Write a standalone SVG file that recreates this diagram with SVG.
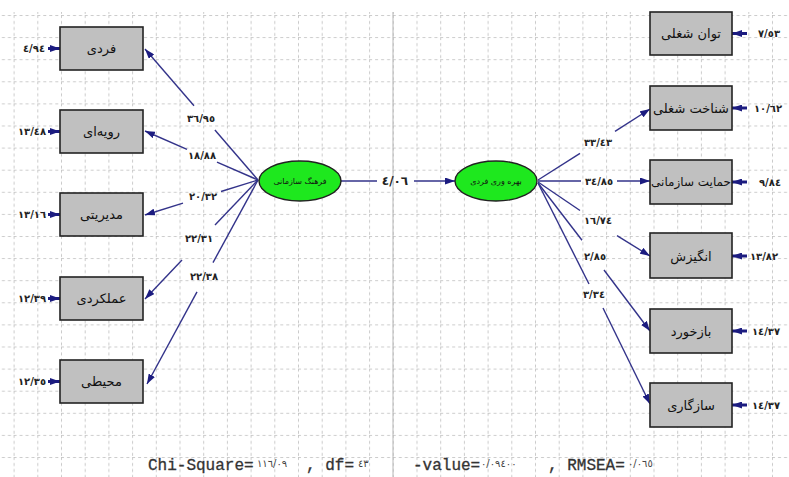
<svg xmlns="http://www.w3.org/2000/svg" width="789" height="477" viewBox="0 0 789 477">
<defs>
<pattern id="grid" x="13.6" y="15" width="23.7" height="22.1" patternUnits="userSpaceOnUse">
<line x1="0" y1="0.5" x2="23.7" y2="0.5" stroke="#c6c6c6" stroke-width="0.9" stroke-dasharray="3 3"/>
<line x1="0.5" y1="0" x2="0.5" y2="22.1" stroke="#c6c6c6" stroke-width="0.9" stroke-dasharray="3 3"/>
</pattern>
<marker id="ah" viewBox="0 0 10 7" refX="10" refY="3.5" markerWidth="10" markerHeight="7" markerUnits="userSpaceOnUse" orient="auto">
<path d="M0,0 L10,3.5 L0,7 z" fill="#1c1c80"/>
</marker>
<style>
.box{fill:#c0c0c0;stroke:#222;stroke-width:1.6}
.ell{fill:#1ee81e;stroke:#222;stroke-width:1.4}
.bt{font-family:"DejaVu Sans",sans-serif;font-size:13px;fill:#111;text-anchor:middle;dominant-baseline:central}
.et{font-family:"DejaVu Sans",sans-serif;font-size:8px;fill:#111;text-anchor:middle;dominant-baseline:central}
.c{stroke:#33338a;stroke-width:1.4;fill:none}
.ea{stroke:#1c1c80;stroke-width:3;fill:none}
.lb{font-family:"DejaVu Sans",sans-serif;font-size:10px;font-weight:bold;fill:#222;text-anchor:middle;dominant-baseline:central}
.mono{font-family:"Liberation Mono",monospace;font-size:16px;fill:#333;stroke:#333;stroke-width:0.3}
.sm{font-family:"DejaVu Sans",sans-serif;font-size:10px;fill:#444}
</style>
</defs>
<rect width="789" height="477" fill="#fff"/>
<rect x="0" y="12" width="789" height="465" fill="url(#grid)"/>
<line x1="393" y1="12" x2="393" y2="477" stroke="#b8b8b8" stroke-width="1"/>

<g id="connectors">
<line class="c" x1="258" y1="180" x2="214.9" y2="130"/>
<line class="c" x1="194" y1="105.8" x2="145" y2="49" marker-end="url(#ah)"/>
<line class="c" x1="258" y1="180" x2="217" y2="162.2"/>
<line class="c" x1="187" y1="149.3" x2="145" y2="131" marker-end="url(#ah)"/>
<line class="c" x1="258" y1="180" x2="221" y2="191.5"/>
<line class="c" x1="183" y1="203.2" x2="145" y2="215" marker-end="url(#ah)"/>
<line class="c" x1="258" y1="180" x2="215" y2="225"/>
<line class="c" x1="182" y1="260" x2="145" y2="299" marker-end="url(#ah)"/>
<line class="c" x1="258" y1="180" x2="213" y2="262.6"/>
<line class="c" x1="197" y1="291.9" x2="147" y2="384" marker-end="url(#ah)"/>
<line class="c" x1="341" y1="181" x2="377" y2="181"/>
<line class="c" x1="414" y1="181" x2="455" y2="181" marker-end="url(#ah)"/>
<line class="c" x1="538" y1="180" x2="580" y2="153.4"/>
<line class="c" x1="615" y1="131.3" x2="650" y2="109" marker-end="url(#ah)"/>
<line class="c" x1="538" y1="181" x2="581" y2="181"/>
<line class="c" x1="617" y1="181" x2="650" y2="181" marker-end="url(#ah)"/>
<line class="c" x1="538" y1="182" x2="580" y2="210.5"/>
<line class="c" x1="617" y1="235.6" x2="650" y2="256" marker-end="url(#ah)"/>
<line class="c" x1="538" y1="183" x2="582" y2="240.3"/>
<line class="c" x1="604" y1="270" x2="650" y2="331" marker-end="url(#ah)"/>
<line class="c" x1="538" y1="183" x2="589" y2="284"/>
<line class="c" x1="603" y1="308" x2="650" y2="404" marker-end="url(#ah)"/>
<line class="ea" x1="48" y1="48.5" x2="60" y2="48.5" marker-end="url(#ah)"/>
<line class="ea" x1="48" y1="131.5" x2="60" y2="131.5" marker-end="url(#ah)"/>
<line class="ea" x1="48" y1="214.5" x2="60" y2="214.5" marker-end="url(#ah)"/>
<line class="ea" x1="48" y1="298.5" x2="60" y2="298.5" marker-end="url(#ah)"/>
<line class="ea" x1="48" y1="381.5" x2="60" y2="381.5" marker-end="url(#ah)"/>
<line class="ea" x1="747" y1="33.5" x2="732" y2="33.5" marker-end="url(#ah)"/>
<line class="ea" x1="747" y1="108" x2="732" y2="108" marker-end="url(#ah)"/>
<line class="ea" x1="747" y1="182" x2="732" y2="182" marker-end="url(#ah)"/>
<line class="ea" x1="747" y1="256" x2="732" y2="256" marker-end="url(#ah)"/>
<line class="ea" x1="747" y1="331" x2="732" y2="331" marker-end="url(#ah)"/>
<line class="ea" x1="747" y1="405" x2="732" y2="405" marker-end="url(#ah)"/>
</g>

<g id="connector-labels">
<text class="lb" x="201" y="118">٣٦/٩٥</text>
<text class="lb" x="202" y="155">١٨/٨٨</text>
<text class="lb" x="203" y="196">٢٠/٣٢</text>
<text class="lb" x="199" y="238">٢٢/٣١</text>
<text class="lb" x="204" y="276">٢٢/٣٨</text>
<text class="lb" x="395" y="181" style="font-size:12px">٤/٠٦</text>
<text class="lb" x="598" y="142">٣٣/٤٣</text>
<text class="lb" x="599" y="181">٣٤/٨٥</text>
<text class="lb" x="598" y="220">١٦/٧٤</text>
<text class="lb" x="595" y="256">٢/٨٥</text>
<text class="lb" x="594" y="294">٣/٣٤</text>
</g>

<g id="error-labels">
<text class="lb" x="34" y="48.5">٤/٩٤</text>
<text class="lb" x="32" y="131.5">١٣/٤٨</text>
<text class="lb" x="32" y="214.5">١٣/١٦</text>
<text class="lb" x="32" y="298.5">١٢/٣٩</text>
<text class="lb" x="32" y="381.5">١٢/٣٥</text>
<text class="lb" x="769" y="33.5">٧/٥٣</text>
<text class="lb" x="768" y="108">١٠/٦٢</text>
<text class="lb" x="770" y="182">٩/٨٤</text>
<text class="lb" x="764" y="256">١٣/٨٢</text>
<text class="lb" x="766" y="331">١٤/٣٧</text>
<text class="lb" x="766" y="405">١٤/٣٧</text>
</g>

<g id="n-fardi"><rect class="box" x="60" y="27" width="83" height="43"/><text class="bt" x="101.5" y="48.5">فردی</text></g>
<g id="n-ravie"><rect class="box" x="60" y="110" width="83" height="43"/><text class="bt" x="101.5" y="131.5">رویه‌ای</text></g>
<g id="n-modiriati"><rect class="box" x="60" y="193" width="83" height="43"/><text class="bt" x="101.5" y="214.5">مدیریتی</text></g>
<g id="n-amalkardi"><rect class="box" x="60" y="277" width="83" height="43"/><text class="bt" x="101.5" y="298.5">عملکردی</text></g>
<g id="n-mohiti"><rect class="box" x="60" y="360" width="83" height="43"/><text class="bt" x="101.5" y="381.5">محیطی</text></g>

<g id="n-farhang"><ellipse class="ell" cx="300" cy="181" rx="41" ry="20"/><text class="et" x="300" y="181">فرهنگ سازمانی</text></g>
<g id="n-bahrevari"><ellipse class="ell" cx="496" cy="181" rx="41" ry="20"/><text class="et" x="496" y="181">بهره وری فردی</text></g>

<g id="n-tavan"><rect class="box" x="650" y="12" width="82" height="43"/><text class="bt" x="691" y="33.5">توان شغلی</text></g>
<g id="n-shenakht"><rect class="box" x="650" y="86" width="82" height="44"/><text class="bt" x="691" y="108">شناخت شغلی</text></g>
<g id="n-hemayat"><rect class="box" x="650" y="160" width="82" height="44"/><text class="bt" x="691" y="182" style="font-size:12px">حمایت سازمانی</text></g>
<g id="n-angizesh"><rect class="box" x="650" y="233" width="82" height="45"/><text class="bt" x="691" y="256">انگیزش</text></g>
<g id="n-bazkhord"><rect class="box" x="650" y="309" width="82" height="44"/><text class="bt" x="691" y="331">بازخورد</text></g>
<g id="n-sazgari"><rect class="box" x="650" y="383" width="82" height="44"/><text class="bt" x="691" y="405">سازگاری</text></g>

<g id="fit-stats">
<text class="mono" x="148" y="470">Chi-Square=</text>
<text class="sm" x="257" y="467">١١٦/٠٩</text>
<text class="mono" x="306" y="470">, df=</text>
<text class="sm" x="358" y="467">٤٣</text>
<text class="mono" x="413" y="470">-value=</text>
<text class="sm" x="481" y="467">٠/٠٩٤٠٠</text>
<text class="mono" x="548" y="470">, RMSEA=</text>
<text class="sm" x="628" y="467">٠/٠٦٥</text>
</g>
</svg>
